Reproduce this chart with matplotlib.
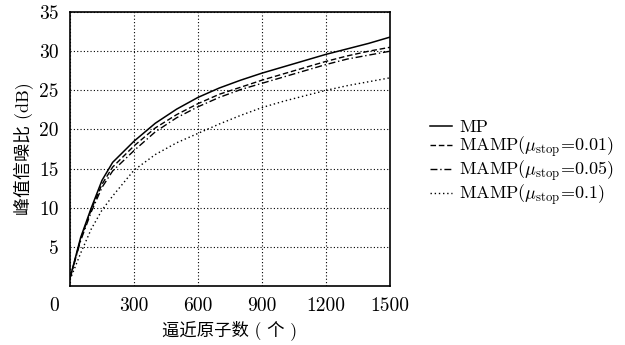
import matplotlib
matplotlib.use('Agg')
import matplotlib.pyplot as plt

# number of atoms vs PSNR (dB)
atoms = [0, 25, 50, 100, 150, 200, 300, 400, 500, 600, 700, 800, 900, 1000, 1100, 1200, 1300, 1400, 1500]
mp = [1, 3.6, 6.2, 10, 13.5, 15.8, 18.5, 20.8, 22.6, 24.1, 25.3, 26.3, 27.2, 28, 28.8, 29.6, 30.3, 31, 31.8]
mamp_001 = [1, 3.5, 6, 9.8, 13, 15.2, 17.9, 20.2, 21.9, 23.3, 24.5, 25.4, 26.3, 27.1, 27.9, 28.7, 29.4, 30, 30.5]
mamp_005 = [1, 3.4, 5.8, 9.5, 12.6, 14.7, 17.3, 19.7, 21.5, 22.9, 24.1, 25.1, 25.9, 26.7, 27.5, 28.3, 29, 29.5, 30]
mamp_01 = [0.8, 2.5, 4.2, 7.3, 9.7, 11.5, 14.8, 16.8, 18.3, 19.5, 20.7, 21.8, 22.8, 23.6, 24.3, 25, 25.6, 26.1, 26.6]

labels = ['MP',
          r'MAMP($\mu_{\rm stop}$=0.01)',
          r'MAMP($\mu_{\rm stop}$=0.05)',
          r'MAMP($\mu_{\rm stop}$=0.1)']

plt.rcParams['font.family'] = ['cmr10', 'Noto Sans CJK SC']
plt.rcParams['mathtext.fontset'] = 'cm'
plt.rcParams['axes.formatter.use_mathtext'] = True

fig = plt.figure(figsize=(6.25, 3.45), dpi=100)
ax = fig.add_axes([0.112, 0.171, 0.512, 0.794])

ax.plot(atoms, mp, color='black', lw=1.1, linestyle='-', label=labels[0])
ax.plot(atoms, mamp_001, color='black', lw=1.0, linestyle=(0, (4, 2)), label=labels[1])
ax.plot(atoms, mamp_005, color='black', lw=1.0, linestyle=(0, (5, 2, 1, 2)), label=labels[2])
ax.plot(atoms, mamp_01, color='black', lw=1.0, linestyle=(0, (1, 2)), label=labels[3])

ax.set_xlim(0, 1500)
ax.set_ylim(0, 35)
ax.set_xticks([0, 300, 600, 900, 1200, 1500])
ax.set_xticklabels(['', '300', '600', '900', '1200', '1500'])
ax.set_yticks([5, 10, 15, 20, 25, 30, 35])
ax.set_yticklabels(['5', '10', '15', '20', '25', '30', '35'])
ax.tick_params(direction='in', length=0, labelsize=14, pad=8)
ax.text(-0.05, -0.04, '0', transform=ax.transAxes, ha='center', va='top', fontsize=14)
ax.grid(True, color='black', linestyle=(0, (1, 2)), lw=0.8)
for s in ax.spines.values():
    s.set_linewidth(1.2)

ax.set_xlabel('逼近原子数 ( 个 )', fontsize=12.5, labelpad=4)
ax.set_ylabel('峰值信噪比 (dB)', fontsize=13, labelpad=4)

fig.legend(loc='upper left', bbox_to_anchor=(0.677, 0.675), frameon=False,
           fontsize=13, handlelength=1.2, handletextpad=0.4, labelspacing=-0.05,
           borderaxespad=0)

fig.savefig('out.png', dpi=100)
